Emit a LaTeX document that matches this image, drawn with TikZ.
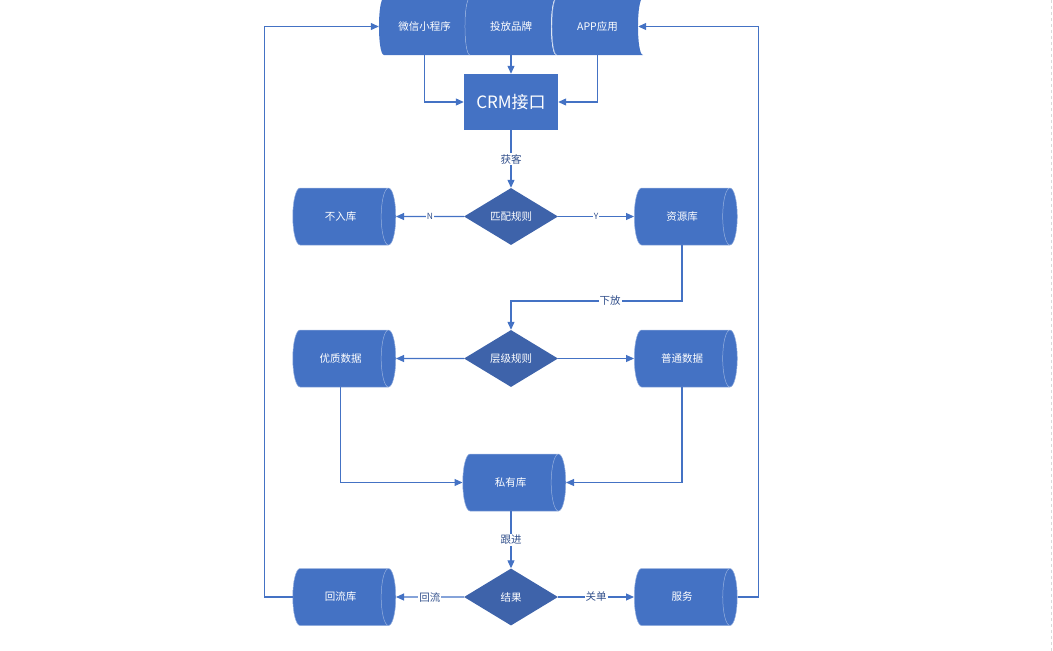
\documentclass[tikz,border=0pt]{standalone}
\usepackage{fontspec}
\setmainfont{Noto Sans CJK SC}
\usetikzlibrary{arrows.meta,positioning,shapes.geometric,calc}
\definecolor{crmblue}{RGB}{68,114,196}
\definecolor{crmdark}{RGB}{62,99,170}
\definecolor{crmlight}{RGB}{150,176,222}
\definecolor{crmtext}{RGB}{50,80,140}
\tikzset{
    store/.style={
        minimum width=91pt,minimum height=57pt,inner sep=0pt,
        text=white,font=\fontsize{10.5}{12}\selectfont
    },
    crmbox/.style={
        fill=crmblue,minimum width=94pt,minimum height=56pt,inner sep=0pt,
        text=white,font=\fontsize{17}{20}\selectfont
    },
    db/.style={
        cylinder,aspect=1.5,draw=crmlight,line width=0.5pt,fill=crmblue,
        minimum height=103pt,minimum width=57pt,inner sep=0pt,
        text=white,font=\fontsize{10.5}{12}\selectfont
    },
    judge/.style={
        diamond,aspect=1.65,fill=crmdark,inner sep=0pt,
        minimum width=94pt,minimum height=57pt,
        text=white,font=\fontsize{10.5}{12}\selectfont
    },
    arrow/.style={
        -{Triangle[length=8pt,width=7pt]},line width=1.1pt,draw=crmblue
    },
    tag/.style={
        fill=white,inner sep=1pt,text=crmtext,font=\fontsize{10.5}{12}\selectfont
    },
    yn/.style={
        fill=white,inner sep=1pt,text=crmtext,font=\fontsize{8.5}{10}\selectfont
    }
}

\begin{document}
\begin{tikzpicture}[x=1pt,y=-1pt]
\useasboundingbox (0,0) rectangle (1053,651);

% channel shapes along the top
\foreach \L in {384,470,557}{
    \fill[crmblue] (\L,-2) -- (\L+86,-2)
        .. controls (\L+79.3,-2) and (\L+79.3,55) .. (\L+86,55)
        -- (\L,55) .. controls (\L-6.7,55) and (\L-6.7,-2) .. (\L,-2) -- cycle;
}
\foreach \L in {470,557}{
    \draw[crmlight,line width=0.5pt] (\L,55) .. controls (\L-6.7,55) and (\L-6.7,-2) .. (\L,-2);
}

\node[store] (ws) at (424.5,26.5) {微信小程序};
\node[store] (tf) at (511,26.5) {投放品牌};
\node[store] (app) at (597.5,26.5) {APP应用};

\node[crmbox] (crm) at (511,102) {CRM接口};

\node[judge] (m1) at (511,216.5) {匹配规则};
\node[db] (bu) at (340.5,216.5) {不入库};
\node[db] (zy) at (682,216.5) {资源库};

\coordinate (xf) at (511,301);

\node[judge] (m2) at (511,358.5) {层级规则};
\node[db] (yz) at (340.5,358.5) {优质数据};
\node[db] (pt) at (682,358.5) {普通数据};

\node[db] (sy) at (510.5,482.5) {私有库};

\node[judge] (m3) at (511,597) {结果};
\node[db] (hl) at (340.5,597) {回流库};
\node[db] (fw) at (682,597) {服务};

\draw[arrow] (ws.south) |- (crm.west);
\draw[arrow] (tf.south) -- (crm.north);
\draw[arrow] (app.south) |- (crm.east);
\draw[arrow] (crm.south) -- node[tag]{获客} (m1.north);
\draw[arrow] (m1.west) -- node[yn]{N} (bu.east);
\draw[arrow] (m1.east) -- node[yn]{Y} (zy.west);
\draw[arrow] (zy.south) |- node[tag,pos=0.71]{下放} (xf) -- (m2.north);
\draw[arrow] (m2.west) -- (yz.east);
\draw[arrow] (m2.east) -- (pt.west);
\draw[arrow] (yz.south) |- (sy.west);
\draw[arrow] (pt.south) |- (sy.east);
\draw[arrow] (sy.south -| m3.north) -- node[tag]{跟进} (m3.north);
\draw[arrow] (m3.west) -- node[tag]{回流} (hl.east);
\draw[arrow] (m3.east) -- node[tag]{关单} (fw.west);
\draw[arrow] (hl.west) -- ++(-28,0) |- (ws.west);
\draw[arrow] (fw.east) -- ++(21,0) |- ($(app.east)+(-5,0)$);

% page edge
\draw[gray!30,dashed,line width=1pt] (1051.5,0) -- (1051.5,651);
\end{tikzpicture}
\end{document}
